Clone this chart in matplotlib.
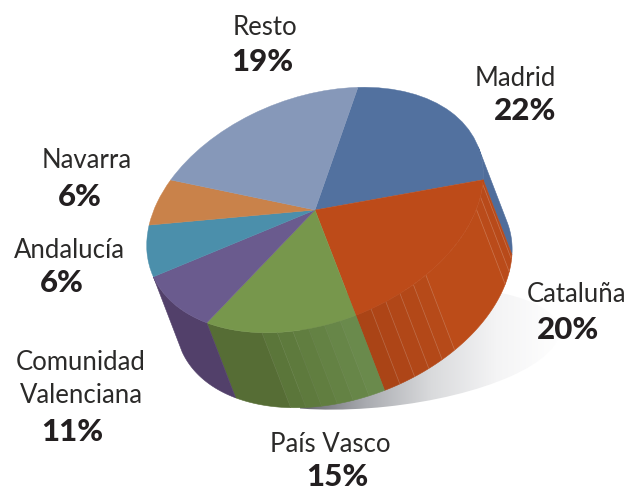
import numpy as np
import matplotlib
matplotlib.use('agg')
import matplotlib.pyplot as plt
from matplotlib.patches import Wedge, Ellipse
from matplotlib.transforms import Affine2D

# slice sizes as measured on the drawing (they differ a little from the printed %)
names = ["Madrid", "Cataluña", "País Vasco", "Comunidad\nValenciana", "Andalucía", "Navarra", "Resto"]
pct_labels = ["22%", "20%", "15%", "11%", "6%", "6%", "19%"]
slice_sizes = [21.6, 20.4, 15.0, 9.4, 7.2, 5.9, 20.5]

top_colors = ["#52719f", "#bd4b19", "#77974c", "#6a5b8e", "#4b8fab", "#c9824a", "#8698b9"]

# side wall shading, one (fraction of the slice, colour) per facet
side_facets = {
    0: [(1.0, "#4f6d9b")],
    1: [(0.03, "#b84a1a"), (0.08, "#b84a1a"), (0.08, "#ba4b1a"), (0.44, "#bc4c19"),
        (0.074, "#b64a19"), (0.074, "#b34818"), (0.074, "#b14718"), (0.074, "#ae4517"), (0.074, "#aa4416")],
    2: [(0.1, "#6a8a4c"), (0.1, "#678648"), (0.1, "#648244"), (0.1, "#617e40"), (0.1, "#5e7a3d"),
        (0.1, "#5b763a"), (0.4, "#566d35")],
    3: [(1.0, "#52406a")],
}
line_alpha = {1: 0.16, 2: 0.05}

start_angle = 61.3
rx, ry = 175, 113
tilt = 21
cx, cy = 315, 210
depth = 0.711

fig = plt.figure(figsize=(6.27, 4.91), dpi=100)
ax = fig.add_axes([0, 0, 1, 1])
ax.set_xlim(0, 627)
ax.set_ylim(491, 0)
ax.axis('off')

tr = Affine2D().scale(rx, ry).rotate_deg(tilt).scale(1, -1).translate(cx, cy) + ax.transData

# shadow
grad = np.linspace(0, 1, 256).reshape(1, -1)
cmap = matplotlib.colors.LinearSegmentedColormap.from_list(
    "shadow", ["#66666f", "#a9abb0", "#d9dadc", "#f4f4f5", "#ffffff"])
img = ax.imshow(grad, extent=[300, 562, 410, 290], cmap=cmap, aspect='auto', zorder=1)
clip = Ellipse((380, 348), 360, 118, angle=-6, transform=ax.transData, fc='none', ec='none')
ax.add_patch(clip)
img.set_clip_path(clip)
ax.set_xlim(0, 627)
ax.set_ylim(491, 0)

# slices
bounds = start_angle - np.cumsum([0] + slice_sizes) * 360 / sum(slice_sizes)

for i, facets in side_facets.items():
    t0, t1 = bounds[i], bounds[i + 1]
    span = t0 - t1
    cur = t0
    for frac, col in facets:
        nxt = cur - frac * span
        a = min(max(cur, -180), 0)
        b = min(max(nxt, -180), 0)
        if a - b > 0:
            t = np.radians(np.linspace(a, b, 40))
            xs = np.r_[np.cos(t), np.cos(t[::-1])]
            ys = np.r_[np.sin(t), np.sin(t[::-1]) - depth]
            ax.fill(xs, ys, color=col, transform=tr, lw=0.4, ec=col, zorder=2)
            if len(facets) > 1 and cur != t0:
                ax.plot(np.cos(t[[0, 0]]), [np.sin(t[0]), np.sin(t[0]) - depth], transform=tr,
                        color="#ffffff", alpha=line_alpha[i], lw=0.6, zorder=2.5)
        cur = nxt

for i, col in enumerate(top_colors):
    w = Wedge((0, 0), 1, bounds[i + 1], bounds[i], fc=col, ec=col, lw=0.3, transform=tr, zorder=3)
    ax.add_patch(w)

# labels
label_font = ['Lato', 'DejaVu Sans']
name_pos = [(515, 78), (577, 294), (330, 444), (81, 379), (69, 250), (87, 160), (265, 27)]
pct_pos = [(525, 111), (568, 330), (337, 477), (72, 432), (62, 283), (80, 197), (262, 62)]
for n, p, np_, pp in zip(names, pct_labels, name_pos, pct_pos):
    ax.text(np_[0], np_[1], n, ha='center', va='center', fontsize=18.5, family=label_font,
            color="#2b2a29", linespacing=1.4, zorder=5)
    ax.text(pp[0], pp[1], p, ha='center', va='center', fontsize=22.5, family=label_font,
            fontweight='black', color="#231f20", zorder=5)

plt.savefig("out.png", dpi=100)
